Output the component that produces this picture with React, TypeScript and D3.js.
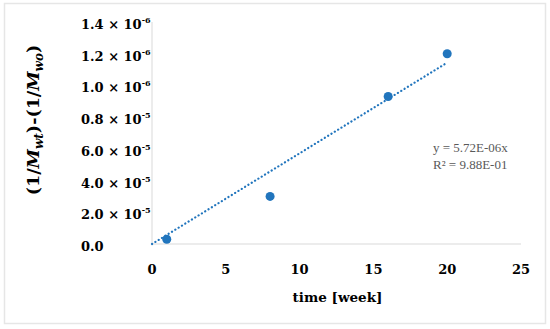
import * as d3 from "d3";
import React, { useRef, useEffect } from "react";

// measured points (x in weeks, y in units of the tick grid)
const weeks = [1, 8, 16, 20];
const values = [0.03, 0.3, 0.93, 1.2];

// trendline through origin, slope
const trendSlope = 0.0572;
const trendRange = [0, 20];

const xTicks = [0, 5, 10, 15, 20, 25];
const yTicks = [0, 0.2, 0.4, 0.6, 0.8, 1.0, 1.2, 1.4];
const yTickMantissa = ["0.0", "2.0", "4.0", "6.0", "0.8", "1.0", "1.2", "1.4"];
const yTickExp = ["", "-5", "-5", "-5", "-5", "-6", "-6", "-6"];

const eqLines = ["y = 5.72E-06x", "R² = 9.88E-01"];

function App() {
  const svgRef = useRef(null);

  useEffect(() => {
    const w = 550;
    const h = 329;
    const svg = d3.select(svgRef.current)
      .attr("width", w)
      .attr("height", h);
    svg.selectAll("*").remove();

    const font = "'DejaVu Serif', serif";
    const eqFont = "'Liberation Serif', serif";
    const blue = "#2175bd";

    // chart border
    svg.append("rect")
      .attr("x", 4.5).attr("y", 3.5)
      .attr("width", 541).attr("height", 320)
      .attr("fill", "#fff")
      .attr("stroke", "#e6e6e6")
      .attr("stroke-width", 1.5);

    const xScale = d3.scaleLinear().domain([0, 25]).range([152, 521]);
    const yScale = d3.scaleLinear().domain([0, 1.4]).range([244, 22]);

    // axis lines
    svg.append("line")
      .attr("x1", xScale(0)).attr("x2", xScale(25))
      .attr("y1", yScale(0)).attr("y2", yScale(0))
      .attr("stroke", "#d9d9d9");
    svg.append("line")
      .attr("x1", xScale(0)).attr("x2", xScale(0))
      .attr("y1", yScale(0)).attr("y2", yScale(1.4))
      .attr("stroke", "#d9d9d9");

    // x tick labels
    svg.append("g").selectAll("text")
      .data(xTicks)
      .join("text")
        .attr("x", d => xScale(d))
        .attr("y", 274)
        .attr("text-anchor", "middle")
        .attr("font-family", font)
        .attr("font-weight", "bold")
        .attr("font-size", 13)
        .text(d => d);

    // y tick labels, left aligned
    const yl = svg.append("g").selectAll("text")
      .data(yTicks)
      .join("text")
        .attr("x", 81)
        .attr("y", d => yScale(d) + 7)
        .attr("font-family", font)
        .attr("font-weight", "bold")
        .attr("font-size", 13);
    yl.append("tspan").text((d, i) => yTickMantissa[i] + (yTickExp[i] ? " × 10" : ""));
    yl.append("tspan")
      .attr("dy", -6)
      .attr("font-size", 8)
      .text((d, i) => yTickExp[i]);

    // axis titles
    svg.append("text")
      .attr("x", xScale(12.5) + 1)
      .attr("y", 302)
      .attr("text-anchor", "middle")
      .attr("font-family", font)
      .attr("font-weight", "bold")
      .attr("font-size", 13.5)
      .text("time [week]");

    const yt = svg.append("text")
      .attr("transform", "translate(39,120) rotate(-90)")
      .attr("text-anchor", "middle")
      .attr("font-family", font)
      .attr("font-weight", "bold")
      .attr("font-size", 17.5);
    yt.append("tspan").text("(1/");
    yt.append("tspan").attr("font-style", "italic").text("M");
    yt.append("tspan").attr("font-style", "italic").attr("font-size", 12).attr("dy", 4).text("wt");
    yt.append("tspan").attr("dy", -4).text(")-(1/");
    yt.append("tspan").attr("font-style", "italic").text("M");
    yt.append("tspan").attr("font-style", "italic").attr("font-size", 12).attr("dy", 4).text("wo");
    yt.append("tspan").attr("dy", -4).text(")");

    // trendline
    const line = d3.line()
      .x(d => xScale(d))
      .y(d => yScale(trendSlope * d));
    svg.append("path")
      .attr("d", line(trendRange))
      .attr("fill", "none")
      .attr("stroke", blue)
      .attr("stroke-width", 2.2)
      .attr("stroke-linecap", "round")
      .attr("stroke-dasharray", "0.1 3.8");

    // points
    svg.append("g").selectAll("circle")
      .data(weeks)
      .join("circle")
        .attr("cx", d => xScale(d))
        .attr("cy", (d, i) => yScale(values[i]))
        .attr("r", 4.5)
        .attr("fill", blue);

    // equation
    svg.append("g").selectAll("text")
      .data(eqLines)
      .join("text")
        .attr("x", 433)
        .attr("y", (d, i) => 152 + i * 16.5)
        .attr("font-family", eqFont)
        .attr("font-size", 13)
        .attr("fill", "#595959")
        .text(d => d);
  }, []);

  return (
    <div style={{ position: "absolute", left: 0, top: 0 }}>
      <svg ref={svgRef} style={{ display: "block" }}></svg>
    </div>
  );
}

export default App;
